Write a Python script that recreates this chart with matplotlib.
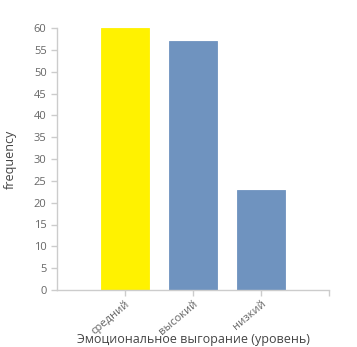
"""Bar chart: emotional burnout level frequencies."""

import matplotlib

matplotlib.use("Agg")
import matplotlib.pyplot as plt
import numpy as np

CATEGORIES = ["средний", "высокий", "низкий"]
FREQUENCIES = [60, 57, 23]
BAR_COLORS = ["#fff200", "#6f93bf", "#6f93bf"]
Y_TICKS = list(range(0, 65, 5))

AXIS_GREY = "#cccccc"
TEXT_GREY = "#666666"

plt.rcParams["font.family"] = ["Open Sans", "DejaVu Sans"]

fig = plt.figure(figsize=(3.57, 3.47), dpi=100)
ax = fig.add_axes([57 / 357, 1 - 290 / 347, 272 / 357, 262 / 347])

x = np.arange(len(CATEGORIES))
ax.bar(x, FREQUENCIES, width=0.71, color=BAR_COLORS, edgecolor=BAR_COLORS, linewidth=0.6)

ax.set_xlim(-1, len(CATEGORIES))
ax.set_ylim(0, 60)
ax.set_yticks(Y_TICKS)
ax.set_xticks(list(x) + [len(CATEGORIES)])
ax.set_xticklabels(CATEGORIES + [""], rotation=40, ha="right", rotation_mode="anchor")

for side in ("top", "right"):
    ax.spines[side].set_visible(False)
for side in ("left", "bottom"):
    ax.spines[side].set_color(AXIS_GREY)
    ax.spines[side].set_linewidth(1.0)

ax.tick_params(axis="both", colors=AXIS_GREY, labelcolor=TEXT_GREY, labelsize=8, length=4, width=1)
ax.tick_params(axis="x", pad=2)

ax.set_xlabel("Эмоциональное выгорание (уровень)", fontsize=9, color="#444444", va="center")
ax.set_ylabel("frequency", fontsize=9, color="#444444", va="center")
ax.xaxis.set_label_coords(0.5, (290 - 340) / 262)
ax.yaxis.set_label_coords((10 - 57) / 272, 0.5)

fig.savefig("out.png", dpi=100)
